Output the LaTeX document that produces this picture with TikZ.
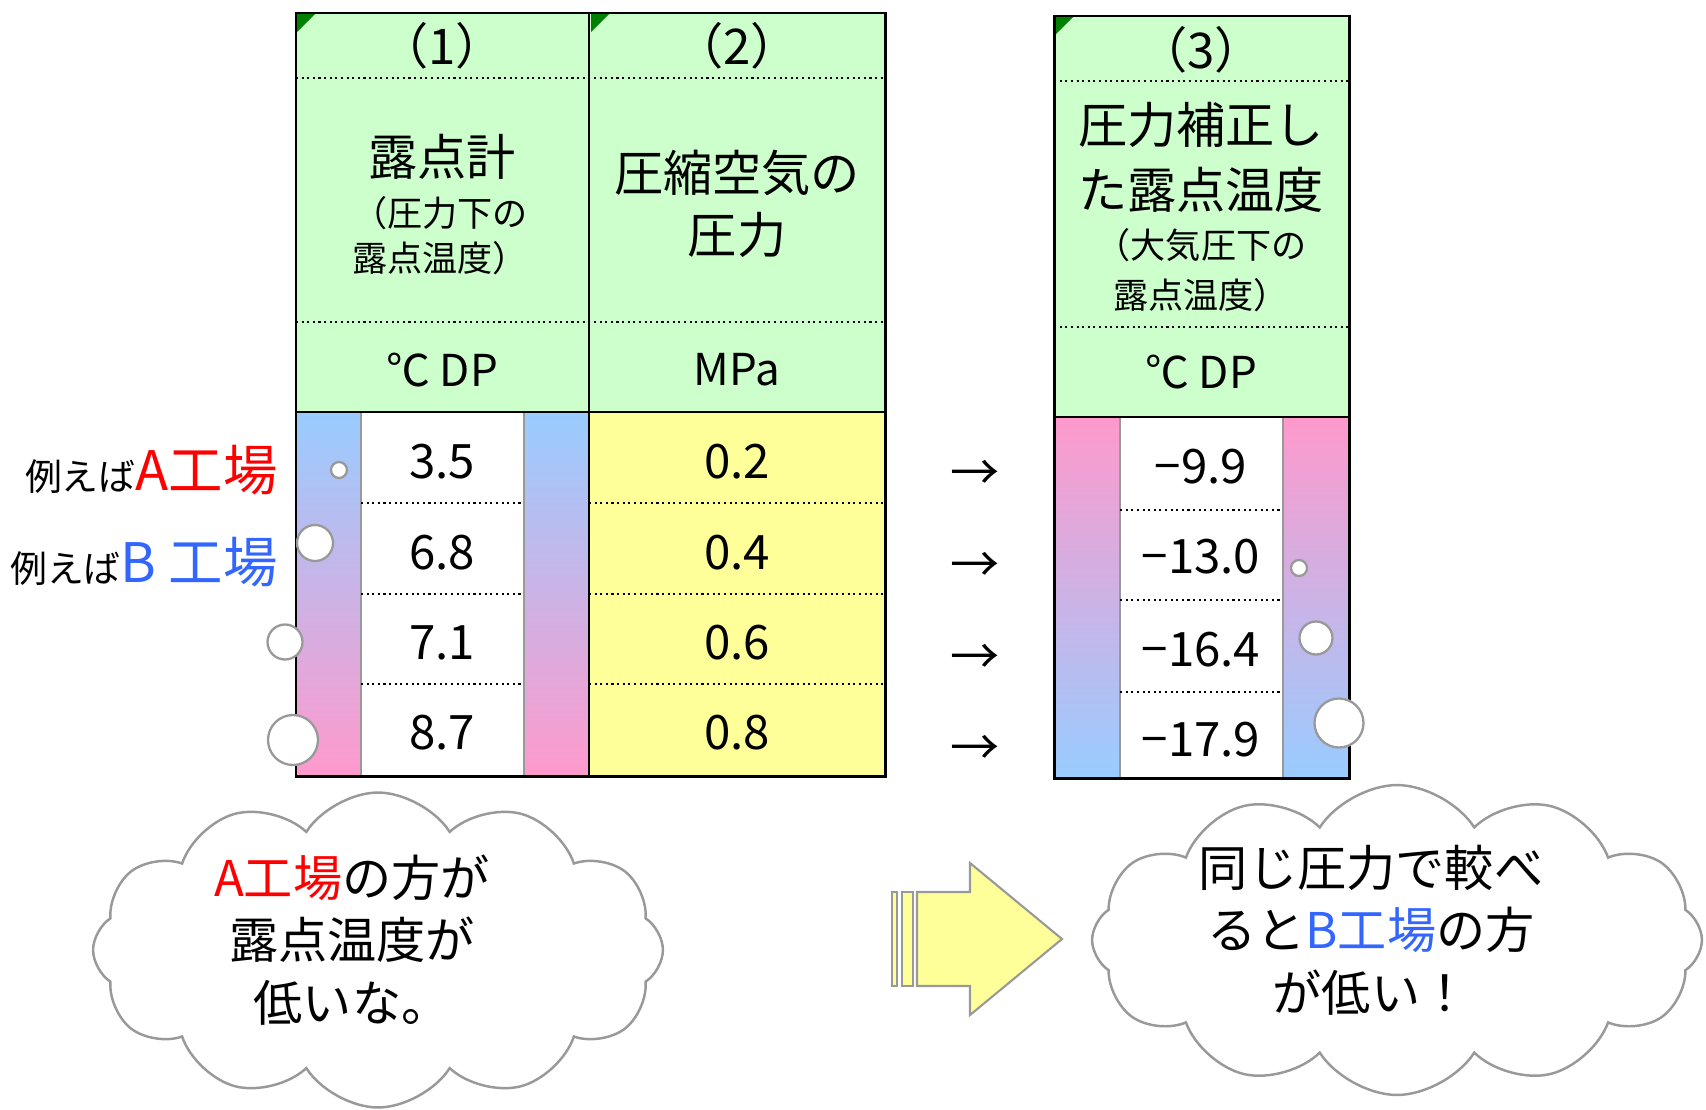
\documentclass[tikz,border=0pt]{standalone}
\usepackage{fontspec}
\setmainfont{Noto Sans CJK JP}
\usetikzlibrary{shapes.symbols,positioning}
\definecolor{hdgreen}{HTML}{CCFFCC}
\definecolor{valyellow}{HTML}{FFFF99}
\definecolor{barblue}{HTML}{99CCFF}
\definecolor{barpink}{HTML}{FF99CC}
\definecolor{cmtgreen}{HTML}{008000}
\definecolor{factred}{HTML}{FF0000}
\definecolor{factblue}{HTML}{3366FF}
\definecolor{edgegray}{HTML}{999999}
\tikzset{
  frame/.style={line width=1.7pt},
  rule/.style={line width=1.2pt},
  dotline/.style={dotted,line width=1.2pt},
  cellgrid/.style={draw=edgegray,line width=0.8pt},
  ttl/.style={font=\fontsize{28}{30}\selectfont},
  big/.style={font=\fontsize{28}{35}\selectfont},
  mid/.style={font=\fontsize{20}{24}\selectfont},
  unit/.style={font=\fontsize{25}{30}\selectfont},
  num/.style={font=\fontsize{27}{30}\selectfont},
  bubble/.style={circle,fill=white,draw=edgegray,line width=1.3pt,inner sep=0pt},
  cloudbox/.style={cloud,cloud puffs=12,cloud puff arc=115,draw=edgegray,fill=white,line width=1.4pt},
  saytext/.style={font=\fontsize{28}{35.5}\selectfont,align=center}
}
\begin{document}
\begin{tikzpicture}[x=0.02cm,y=-0.02cm]
\useasboundingbox (0,0) rectangle (1706,1109);

% columns (1) and (2)
\fill[hdgreen] (296,13) rectangle (885,412);
\shade[top color=barblue,bottom color=barpink] (296,412) rectangle (361,776);
\shade[top color=barblue,bottom color=barpink] (524,412) rectangle (589,776);
\fill[white] (361,412) rectangle (524,776);
\fill[valyellow] (589,412) rectangle (885,776);
\fill[cmtgreen] (297,14) -- (315,14) -- (297,32) -- cycle;
\fill[cmtgreen] (591,14) -- (609,14) -- (591,32) -- cycle;
\draw[cellgrid] (361,412) -- (361,776) (524,412) -- (524,776);
\draw[dotline] (296,78) -- (885,78) (296,322) -- (885,322);
\draw[dotline] (361,503) -- (524,503) (361,594) -- (524,594) (361,684) -- (524,684);
\draw[dotline] (589,503) -- (885,503) (589,594) -- (885,594) (589,684) -- (885,684);
\draw[rule] (589,13) -- (589,776) (296,412) -- (885,412);
\draw[frame] (296,13) rectangle (885,776);

\node[ttl] (t1) at (442,46) {（1）};
\node[big] (h1a) at (442,157) {露点計};
\node[mid] (h1b) at (440,213) {（圧力下の};
\node[mid] (h1c) at (440,258) {露点温度）};
\node[unit] (u1) at (442,370) {℃ DP};
\node[num] (v1a) at (442,462) {3.5};
\node[num] (v1b) at (442,553) {6.8};
\node[num] (v1c) at (442,643) {7.1};
\node[num] (v1d) at (442,733) {8.7};

\node[ttl] (t2) at (737,46) {（2）};
\node[big] (h2a) at (737,173) {圧縮空気の};
\node[big] (h2b) at (737,235) {圧力};
\node[unit] (u2) at (737,370) {MPa};
\node[num] (v2a) at (737,462) {0.2};
\node[num] (v2b) at (737,553) {0.4};
\node[num] (v2c) at (737,643) {0.6};
\node[num] (v2d) at (737,733) {0.8};

\node[anchor=east,font=\fontsize{21}{24}\selectfont] (plantA) at (284,470)
  {例えば{\color{factred}\fontsize{31}{33}\selectfont A工場}};
\node[anchor=east,font=\fontsize{21}{24}\selectfont] (plantB) at (284,562)
  {例えば{\color{factblue}\fontsize{31}{33}\selectfont B 工場}};

\node[bubble,minimum size=0.32cm] (b1a) at (339,470) {};
\node[bubble,minimum size=0.72cm] (b1b) at (315,543) {};
\node[bubble,minimum size=0.70cm] (b1c) at (285,642) {};
\node[bubble,minimum size=1.0cm] (b1d) at (293,740) {};

% arrows between
\node[big] (ar1) at (975,475) {→};
\node[big] (ar2) at (975,567) {→};
\node[big] (ar3) at (975,659) {→};
\node[big] (ar4) at (975,750) {→};

% column (3)
\fill[hdgreen] (1054,16) rectangle (1349,417);
\shade[top color=barpink,bottom color=barblue] (1054,417) rectangle (1120,778);
\shade[top color=barpink,bottom color=barblue] (1283,417) rectangle (1349,778);
\fill[white] (1120,417) rectangle (1283,778);
\fill[cmtgreen] (1055,17) -- (1073,17) -- (1055,35) -- cycle;
\draw[cellgrid] (1120,417) -- (1120,778) (1283,417) -- (1283,778);
\draw[dotline] (1054,81) -- (1349,81) (1054,327) -- (1349,327);
\draw[dotline] (1120,510) -- (1283,510) (1120,600) -- (1283,600) (1120,692) -- (1283,692);
\draw[rule] (1054,417) -- (1349,417);
\draw[frame] (1054,16) rectangle (1349,778);

\node[ttl] (t3) at (1201,50) {（3）};
\node[big] (h3a) at (1201,125) {圧力補正し};
\node[big] (h3b) at (1201,190) {た露点温度};
\node[mid] (h3c) at (1201,245) {（大気圧下の};
\node[mid] (h3d) at (1201,295) {露点温度）};
\node[unit] (u3) at (1201,372) {℃ DP};
\node[num] (v3a) at (1201,467) {−9.9};
\node[num] (v3b) at (1201,557) {−13.0};
\node[num] (v3c) at (1201,650) {−16.4};
\node[num] (v3d) at (1201,740) {−17.9};

\node[bubble,minimum size=0.32cm] (b3a) at (1299,568) {};
\node[bubble,minimum size=0.66cm] (b3b) at (1316,638) {};
\node[bubble,minimum size=0.98cm] (b3c) at (1339,723) {};

% clouds and big arrow
\node[cloudbox,minimum width=11.4cm,minimum height=6.3cm] (cloudA) at (378,950) {};
\node[saytext] (sayA) at (352,940)
  {{\color{factred}A工場}の方が\\露点温度が\\低いな。};

\fill[valyellow,draw=edgegray,line width=1.2pt] (892,892) rectangle (897,986);
\fill[valyellow,draw=edgegray,line width=1.2pt] (902,892) rectangle (913,986);
\filldraw[fill=valyellow,draw=edgegray,line width=1.2pt]
  (917,892) -- (970,892) -- (970,863) -- (1062,939) -- (970,1015) -- (970,986) -- (917,986) -- cycle;

\node[cloudbox,minimum width=12.2cm,minimum height=6.2cm] (cloudB) at (1397,940) {};
\node[saytext] (sayB) at (1371,930)
  {同じ圧力で較べ\\ると{\color{factblue}B工場}の方\\が低い！};
\end{tikzpicture}
\end{document}
